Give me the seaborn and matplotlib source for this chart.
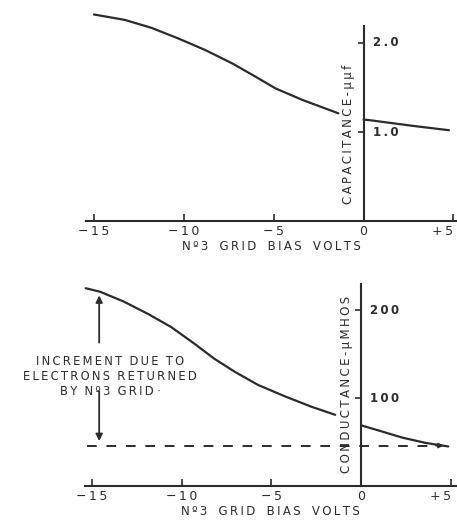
import matplotlib
matplotlib.use("Agg")
import matplotlib.pyplot as plt
import seaborn as sns
import pandas as pd

sns.set_theme(style="white")
plt.rcParams["font.family"] = ["DejaVu Sans"]

# Shared x ticks (No. 3 grid bias, volts)
x_ticks = [-15, -10, -5, 0, 5]
x_tick_labels = ["\u221215", "\u221210", "\u22125", "0", "+5"]

# Capacitance (µµf) vs grid bias: negative-bias branch and positive-bias branch
cap_neg_v = [-15.0, -13.3, -11.8, -10.3, -8.8, -7.3, -6.0, -4.9, -3.4, -1.4]
cap_neg_c = [2.32, 2.26, 2.17, 2.05, 1.92, 1.77, 1.62, 1.49, 1.36, 1.21]
cap_pos_v = [0.0, 0.45, 2.7, 4.75]
cap_pos_c = [1.14, 1.13, 1.07, 1.02]
cap_ticks = [1.0, 2.0]
cap_tick_labels = ["1.0", "2.0"]

# Conductance (µmhos) vs grid bias
cond_neg_v = [-15.35, -14.55, -13.25, -11.9, -10.6, -9.3, -8.2, -7.05, -5.75, -4.25,
              -2.75, -1.45]
cond_neg_g = [225, 221, 210, 196, 181, 162, 145, 130, 115, 102, 90, 81]
cond_pos_v = [0.0, 1.0, 2.3, 3.6, 4.85]
cond_pos_g = [69, 63, 55, 49, 45]
cond_ticks = [100, 200]
cond_tick_labels = ["100", "200"]
baseline_g = 46

INK = "#2b2b2b"
LW = 1.6


def spaced(s, sep="\u2009"):
    return sep.join(s)


def words(s, gap="   "):
    return gap.join(spaced(w) for w in s.split(" "))


def style_axes(ax, ybound_top, yticks, ylabels, ylabel, ylabel_y):
    for side in ("top", "right"):
        ax.spines[side].set_visible(False)
    ax.spines["left"].set_position(("data", 0))
    ax.spines["left"].set_bounds(0, ybound_top)
    for side in ("left", "bottom"):
        ax.spines[side].set_color(INK)
        ax.spines[side].set_linewidth(1.5)
    ax.set_xticks(x_ticks)
    ax.set_xticklabels([spaced(t) for t in x_tick_labels], fontsize=9, color=INK)
    last = ax.get_xticklabels()[-1]
    last.set_ha("right")
    ax.set_yticks(yticks)
    ax.set_yticklabels([])
    ax.tick_params(axis="x", direction="in", length=5, width=1.2, color=INK, pad=3,
                   bottom=True)
    ax.tick_params(axis="y", direction="out", length=4, width=1.2, color=INK, left=True)
    for yv, lab in zip(yticks, ylabels):
        ax.text(0.5, yv, spaced(lab), fontsize=8.5, color=INK, ha="left", va="center",
                fontweight="bold")
    ax.set_xlabel(words("Nº3 GRID BIAS VOLTS"), fontsize=8.5, color=INK, labelpad=1)
    ax.set_ylabel("")
    ax.text(-0.45, ylabel_y, ylabel, rotation=90, fontsize=8.5, color=INK,
            ha="right", va="center")


fig = plt.figure(figsize=(4.57, 5.23), dpi=100)

# ---- Capacitance panel ----
ax1 = fig.add_axes([0.188, 0.5774, 0.812, 0.417])
d1a = pd.DataFrame({"v": cap_neg_v, "c": cap_neg_c})
d1b = pd.DataFrame({"v": cap_pos_v, "c": cap_pos_c})
sns.lineplot(data=d1a, x="v", y="c", ax=ax1, color=INK, lw=LW, clip_on=False)
sns.lineplot(data=d1b, x="v", y="c", ax=ax1, color=INK, lw=LW, clip_on=False)
ax1.set_xlim(-15.45, 5.2)
ax1.set_ylim(0, 2.45)
style_axes(ax1, 2.19, cap_ticks, cap_tick_labels,
           spaced("CAPACITANCE") + "\u2009-\u2009" + spaced("µµf"), 0.97)

# ---- Conductance panel ----
ax2 = fig.add_axes([0.1856, 0.0707, 0.813, 0.395])
d2a = pd.DataFrame({"v": cond_neg_v, "g": cond_neg_g})
d2b = pd.DataFrame({"v": cond_pos_v, "g": cond_pos_g})
sns.lineplot(data=d2a, x="v", y="g", ax=ax2, color=INK, lw=LW, clip_on=False)
sns.lineplot(data=d2b, x="v", y="g", ax=ax2, color=INK, lw=LW, clip_on=False)
ax2.plot([-15.3, 4.3], [baseline_g, baseline_g], color=INK, lw=1.4,
         linestyle=(0, (5, 5)))
ax2.annotate("", xy=(4.75, baseline_g), xytext=(4.0, baseline_g),
             arrowprops=dict(arrowstyle="-|>", color=INK, lw=1.2, mutation_scale=7))
ax2.set_xlim(-15.4, 5.3)
ax2.set_ylim(0, 235)
style_axes(ax2, 230, cond_ticks, cond_tick_labels,
           spaced("CONDUCTANCE") + "\u2009-\u2009" + spaced("µMHOS"), 116)

# Double-headed dimension arrow showing the increment
arrow_x = -14.6
ax2.annotate("", xy=(arrow_x, 220), xytext=(arrow_x, 160),
             arrowprops=dict(arrowstyle="-|>", color=INK, lw=1.3, mutation_scale=10))
ax2.annotate("", xy=(arrow_x, baseline_g + 2), xytext=(arrow_x, 111),
             arrowprops=dict(arrowstyle="-|>", color=INK, lw=1.3, mutation_scale=10))
note = "\n".join([words("INCREMENT DUE TO", "  "),
                  words("ELECTRONS RETURNED", "  "),
                  words("BY Nº3 GRID", "  ") + " ·"])
ax2.text(-14.0, 125, note, fontsize=8.3, color=INK, ha="center", va="center",
         linespacing=1.2, clip_on=False)

fig.savefig("out.png", dpi=100)
